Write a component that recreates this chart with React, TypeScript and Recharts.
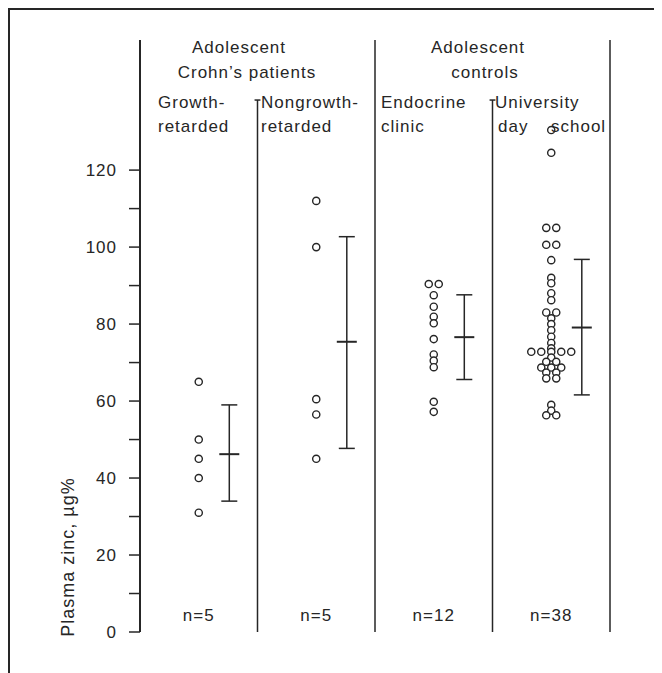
import React from "react";
import {
  ScatterChart, Scatter, XAxis, YAxis, ErrorBar, ReferenceLine, Label, LabelList
} from "recharts";

// plasma zinc (µg%) per subject
const growthRetarded = [65, 50, 45, 40, 31];
const nongrowthRetarded = [112, 100, 60.5, 56.5, 45];
const endocrineClinic = [90.4, 90.4, 87.5, 84.5, 81.9, 80.2, 76.1, 72.1, 70.5, 68.8, 59.8, 57.2];
const universitySchool = [
  130.4, 124.5, 105, 105, 100.6, 100.6, 96.6, 92, 90.6, 88, 86.2, 83, 83, 81.5, 80,
  78.4, 76.7, 75.1, 73.7, 72.8, 72.8, 72.8, 72.8, 72.8, 71.3, 70.2, 70.2,
  68.7, 68.7, 68.7, 67.4, 67.4, 65.9, 65.9, 59, 57.5, 56.3, 56.3,
];

const groupValues = [growthRetarded, nongrowthRetarded, endocrineClinic, universitySchool];
const means = [46.2, 75.4, 76.6, 79.1];
const lows = [34, 47.7, 65.6, 61.6];
const highs = [59, 102.7, 87.6, 96.8];
const counts = [5, 5, 12, 38];

const INK = "#262626";
const FONT = "'Liberation Sans', Arial, sans-serif";
const SPREAD = 0.085; // horizontal gap between tied dots, in group widths

// tied values are spread side by side, like the hand-drawn dot plot
const points = groupValues.flatMap((vals, g) => {
  const seen: Record<string, number> = {};
  return vals.map((v) => {
    const n = vals.filter((w) => w === v).length;
    const k = seen[v] ?? 0;
    seen[v] = k + 1;
    return { x: g + 0.5 + (k - (n - 1) / 2) * SPREAD, y: v };
  });
});

const summary = means.map((m, g) => ({
  x: g + 0.76,
  y: m,
  err: [m - lows[g], highs[g] - m],
}));

const countLabels = counts.map((n, g) => ({ x: g + 0.5, y: 4.5, label: `n=${n}` }));

const Dot = (p: any) => (
  <circle cx={p.cx} cy={p.cy} r={3.6} fill="#fff" stroke={INK} strokeWidth={1.4} />
);
const MeanBar = (p: any) => (
  <line x1={p.cx - 10} x2={p.cx + 10} y1={p.cy} y2={p.cy} stroke={INK} strokeWidth={2} />
);
const Nothing = () => <g />;

const YTick = (p: any) => {
  const v = p.payload.value;
  if (v % 20 !== 0) return <g />;
  return (
    <text x={p.x} y={p.y} textAnchor="end" dominantBaseline="central"
      fontSize={17} letterSpacing={1} fill={INK} fontFamily={FONT}>
      {v}
    </text>
  );
};

const headers = [
  { t: "Adolescent", cx: 239, cy: 48 },
  { t: "Crohn’s patients", cx: 247, cy: 73 },
  { t: "Adolescent", cx: 478, cy: 48 },
  { t: "controls", cx: 485, cy: 73 },
];
const subHeaders = [
  { t: "Growth-", x: 158, cy: 103 },
  { t: "retarded", x: 158, cy: 127 },
  { t: "Nongrowth-", x: 261, cy: 103 },
  { t: "retarded", x: 261, cy: 127 },
  { t: "Endocrine", x: 381, cy: 103 },
  { t: "clinic", x: 381, cy: 127 },
  { t: "University", x: 495, cy: 103 },
  { t: "day", x: 498, cy: 127 },
  { t: "school", x: 551, cy: 127 },
];

const textStyle: React.CSSProperties = {
  position: "absolute",
  fontFamily: FONT,
  fontSize: 17,
  letterSpacing: 1,
  lineHeight: "20px",
  color: INK,
  whiteSpace: "nowrap",
};

export default function App() {
  return (
    <div style={{ position: "relative", width: 654, height: 665 }}>
      {/* outer frame: top and left edges of the scanned page */}
      <svg width={654} height={665} style={{ position: "absolute", left: 0, top: 0, zIndex: 2, pointerEvents: "none" }}>
        <line x1={1} y1={1} x2={654} y2={1} stroke={INK} strokeWidth={2} />
        <line x1={1} y1={0} x2={1} y2={665} stroke={INK} strokeWidth={2} />
      </svg>

      <div style={{ position: "absolute", left: 2, top: 2 }}>
        <ScatterChart width={644} height={655} margin={{ top: 30, right: 44, bottom: 33, left: 80 }}>
          <XAxis type="number" dataKey="x" domain={[0, 4]} tick={false} height={0}
            axisLine={{ stroke: INK, strokeWidth: 2 }} tickLine={false} />
          <YAxis type="number" dataKey="y" domain={[0, 153.8]} width={50}
            ticks={[0, 10, 20, 30, 40, 50, 60, 70, 80, 90, 100, 110, 120]}
            tick={<YTick />} tickSize={11} tickMargin={12}
            axisLine={{ stroke: INK, strokeWidth: 2 }} tickLine={{ stroke: INK, strokeWidth: 1.5 }}>
            <Label content={() => (
              <text x={58} y={547} transform="rotate(-90 58 547)" textAnchor="middle"
                dominantBaseline="central" fontSize={18} letterSpacing={1}
                fill={INK} fontFamily={FONT}>
                Plasma zinc, µg%
              </text>
            )} />
          </YAxis>

          <ReferenceLine segment={[{ x: 1, y: 0 }, { x: 1, y: 138.2 }]} stroke={INK} strokeWidth={1.5} />
          <ReferenceLine segment={[{ x: 0.975, y: 138.2 }, { x: 1.025, y: 138.2 }]} stroke={INK} strokeWidth={1.5} />
          <ReferenceLine x={2} stroke={INK} strokeWidth={1.5} />
          <ReferenceLine segment={[{ x: 3, y: 0 }, { x: 3, y: 138.2 }]} stroke={INK} strokeWidth={1.5} />
          <ReferenceLine segment={[{ x: 2.975, y: 138.2 }, { x: 3.025, y: 138.2 }]} stroke={INK} strokeWidth={1.5} />
          <ReferenceLine x={4} stroke={INK} strokeWidth={1.5} />

          <Scatter data={points} shape={<Dot />} isAnimationActive={false} />
          <Scatter data={summary} shape={<MeanBar />} isAnimationActive={false}>
            <ErrorBar dataKey="err" direction="y" width={8} stroke={INK} strokeWidth={1.5} />
          </Scatter>
          <Scatter data={countLabels} shape={<Nothing />} isAnimationActive={false}>
            <LabelList dataKey="label" position="center" fill={INK} fontSize={17}
              fontFamily={FONT} letterSpacing={1} />
          </Scatter>
        </ScatterChart>
      </div>

      {headers.map((h, i) => (
        <span key={i} style={{ ...textStyle, left: h.cx - 8 - 100, width: 200, textAlign: "center", top: h.cy - 10 - 8 }}>
          {h.t}
        </span>
      ))}
      {subHeaders.map((h, i) => (
        <span key={"s" + i} style={{ ...textStyle, left: h.x - 8, top: h.cy - 10 - 8 }}>
          {h.t}
        </span>
      ))}
    </div>
  );
}
